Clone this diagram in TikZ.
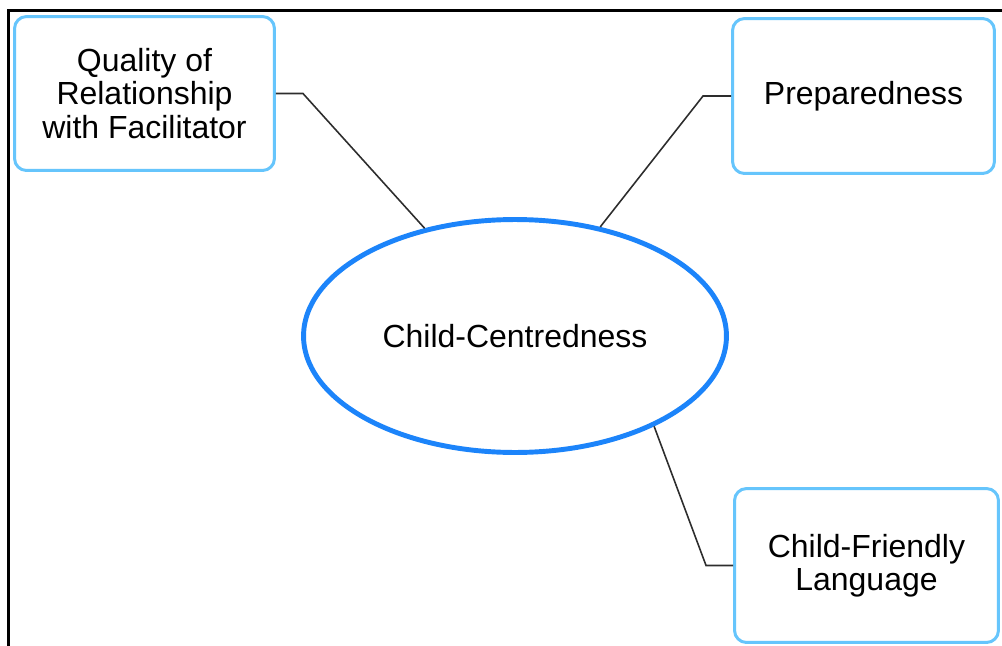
\documentclass[tikz,border=0pt]{standalone}
\usepackage{fontspec}
\setmainfont{Liberation Sans}
\usetikzlibrary{shapes.geometric}
\definecolor{boxblue}{RGB}{102,197,252}
\definecolor{ringblue}{RGB}{28,132,250}
\definecolor{linkgray}{RGB}{45,45,45}
\begin{document}
\begin{tikzpicture}[x=0.02cm, y=-0.02cm,
        theme/.style={draw=boxblue, line width=1.7pt, rounded corners=0.24cm, fill=white,
            align=center, inner sep=0pt, font=\fontsize{18.2}{19}\selectfont},
        core/.style={ellipse, draw=ringblue, line width=2.8pt, fill=white, inner sep=0pt,
            minimum width=8.46cm, minimum height=4.66cm, font=\fontsize{18.2}{19}\selectfont},
        link/.style={draw=linkgray, line width=0.9pt}]
        \useasboundingbox (0,0) rectangle (1002,646);
        \draw [line width=1.4pt] (8.5,646) -- (8.5,10.5) -- (1002,10.5);
        \node [core] (cc) at (515,336) {Child-Centredness};
        \node [theme, minimum width=5.2cm, minimum height=3.08cm] (qual) at (144.5,93.5) {Quality of\\Relationship\\with Facilitator};
        \node [theme, minimum width=5.24cm, minimum height=3.1cm] (prep) at (863.5,96) {Preparedness};
        \node [theme, minimum width=5.28cm, minimum height=3.08cm] (lang) at (866.5,565.5) {Child-Friendly\\Language};
        \draw [link] (qual.east) -- ++(27,0) -- (cc.130);
        \draw [link] (prep.west) -- ++(-28,0) -- (cc.52);
        \draw [link] (lang.west) -- ++(-27,0) -- (cc.-33);
    \end{tikzpicture}
\end{document}
